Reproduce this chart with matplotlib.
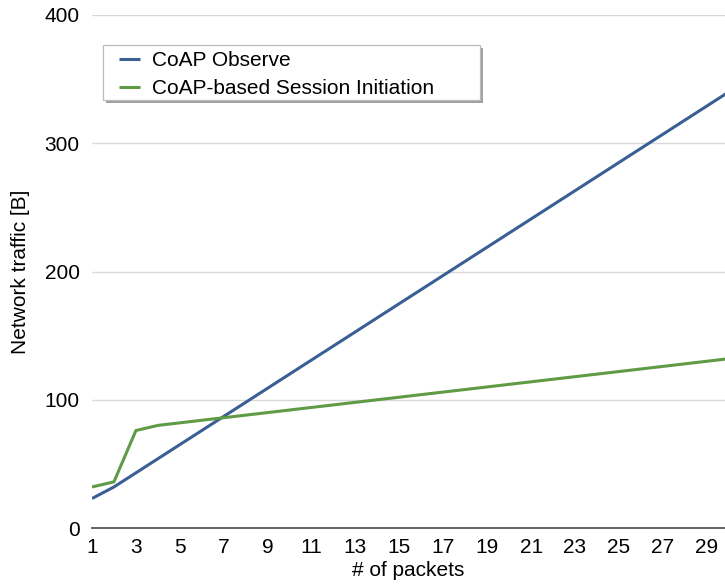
import matplotlib
matplotlib.use("Agg")
import matplotlib.pyplot as plt
from matplotlib.patches import Rectangle
from matplotlib.transforms import offset_copy

packets = list(range(1, 31))
observe = [23, 32, 43, 54, 65, 76, 87, 98, 109, 120, 131, 142, 153, 164, 175,
           186, 197, 208, 219, 230, 241, 252, 263, 274, 285, 296, 307, 318, 329, 340]
session = [32, 36, 76, 80, 82, 84, 86, 88, 90, 92, 94, 96, 98, 100, 102,
           104, 106, 108, 110, 112, 114, 116, 118, 120, 122, 124, 126, 128, 130, 132]
xticks = list(range(1, 30, 2))
yticks = [0, 100, 200, 300, 400]

plt.rcParams['font.family'] = ['Liberation Sans', 'DejaVu Sans']

fig = plt.figure(figsize=(7.25, 5.88), dpi=100)
ax = fig.add_axes([92/725, 1-528/588, 1-92/725, (528-15)/588])

ax.plot(packets, observe, color='#3a5f94', lw=2.2, label='CoAP Observe', solid_capstyle='butt')
ax.plot(packets, session, color='#5f9a45', lw=2.2, label='CoAP-based Session Initiation', solid_capstyle='butt')

ax.set_xlim(1, 29.83)
ax.set_ylim(0, 400)
ax.set_xticks(xticks)
ax.set_yticks(yticks)
for y in yticks[1:]:
    ax.axhline(y, color='#d9d9d9', lw=1, zorder=0)
for s in ['left', 'right', 'top']:
    ax.spines[s].set_visible(False)
ax.spines['bottom'].set_color('#555555')
ax.spines['bottom'].set_linewidth(1.3)
ax.tick_params(axis='both', length=0, labelsize=15, colors='black')
ax.tick_params(axis='x', pad=7)
ax.tick_params(axis='y', pad=9)
ax.set_xlabel('# of packets', fontsize=15, labelpad=3)
ax.set_ylabel('Network traffic [B]', fontsize=15, labelpad=10)

# legend frame with shadow
fx0, fx1 = 0.0174, 0.6130
fy0, fy1 = 0.8343, 0.9415
shadow_tr = offset_copy(ax.transAxes, fig=fig, x=3, y=-3, units='dots')
ax.add_patch(Rectangle((fx0, fy0), fx1 - fx0, fy1 - fy0, transform=shadow_tr,
                       facecolor='#7a7a7a', edgecolor='none', alpha=0.7, zorder=4,
                       clip_on=False))
ax.add_patch(Rectangle((fx0, fy0), fx1 - fx0, fy1 - fy0, transform=ax.transAxes,
                       facecolor='white', edgecolor='#bbbbbb', lw=0.9, zorder=5,
                       clip_on=False))

leg = ax.legend(loc='upper left', bbox_to_anchor=(0.0332, 0.942), borderaxespad=0,
                fontsize=15, frameon=False,
                handlelength=1.0, handletextpad=0.55, labelspacing=0.45,
                borderpad=0.3)
leg.set_zorder(6)

fig.savefig('out.png', dpi=100)
